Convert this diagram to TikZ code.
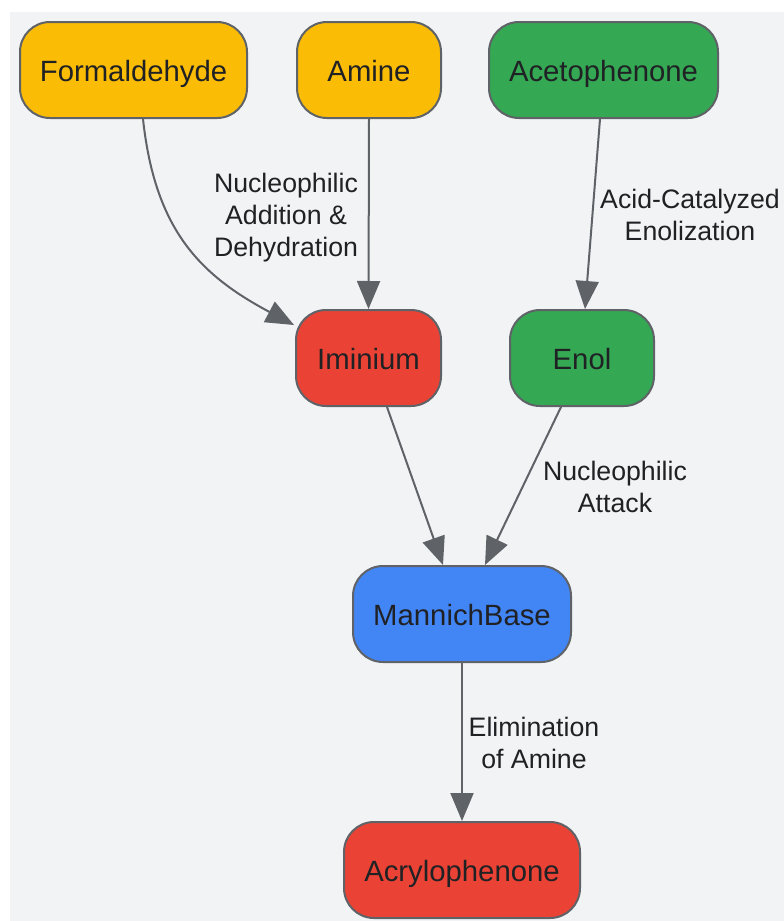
\documentclass[tikz,border=0pt]{standalone}
\usepackage{fontspec}
\setmainfont{Liberation Sans}
\usetikzlibrary{arrows.meta}
\definecolor{bgc}{HTML}{F1F3F5}
\definecolor{edgec}{HTML}{5F6368}
\definecolor{txtc}{HTML}{202124}
\definecolor{yel}{HTML}{FBBC05}
\definecolor{grn}{HTML}{34A853}
\definecolor{rd}{HTML}{EA4335}
\definecolor{blu}{HTML}{4285F4}
\tikzset{
  box/.style={draw=edgec, line width=2pt, rounded corners=30pt, minimum height=96pt,
    inner sep=0pt, text=txtc, text height=23pt, text depth=0pt, font=\fontsize{29.3}{33}\selectfont},
  conn/.style={draw=edgec, line width=2pt, -{Triangle[length=28pt,width=23pt]}},
  lbl/.style={text=txtc, font=\fontsize{26.7}{32}\selectfont, align=center, inner sep=0pt}
}
\begin{document}
\begin{tikzpicture}[x=1pt,y=-1pt]
\useasboundingbox (0,0) rectangle (784,921);
\fill[bgc] (10,12) rectangle (784,921);
\node[box, fill=yel, minimum width=227pt] (form) at (133.5,70) {Formaldehyde};
\node[box, fill=yel, minimum width=144pt] (amine) at (369,70) {Amine};
\node[box, fill=grn, minimum width=229pt] (acet) at (603.5,70) {Acetophenone};
\node[box, fill=rd, minimum width=145pt] (imin) at (368.5,358) {Iminium};
\node[box, fill=grn, minimum width=144pt] (enol) at (582,358) {Enol};
\node[box, fill=blu, minimum width=218pt] (mb) at (462,614) {MannichBase};
\node[box, fill=rd, minimum width=236pt] (acry) at (462,870) {Acrylophenone};

\draw[conn] ([xshift=9.5pt]form.south) .. controls (155,230) and (200,275) .. ([xshift=-1pt,yshift=-16pt]imin.north west);
\draw[conn] (amine.south) -- (imin.north);
\draw[conn] ([xshift=-3.5pt]acet.south) -- ([xshift=3pt]enol.north);
\draw[conn] ([xshift=18.5pt]imin.south) -- ([xshift=-19pt]mb.north);
\draw[conn] ([xshift=-21pt]enol.south) -- ([xshift=23pt]mb.north);
\draw[conn] (mb.south) -- (acry.north);

\node[lbl] (l1) at (286,218) {Nucleophilic\\Addition \&\\Dehydration};
\node[lbl] (l2) at (690,215) {Acid-Catalyzed\\Enolization};
\node[lbl] (l3) at (615,487) {Nucleophilic\\Attack};
\node[lbl] (l4) at (534,743) {Elimination\\of Amine};
\end{tikzpicture}
\end{document}
